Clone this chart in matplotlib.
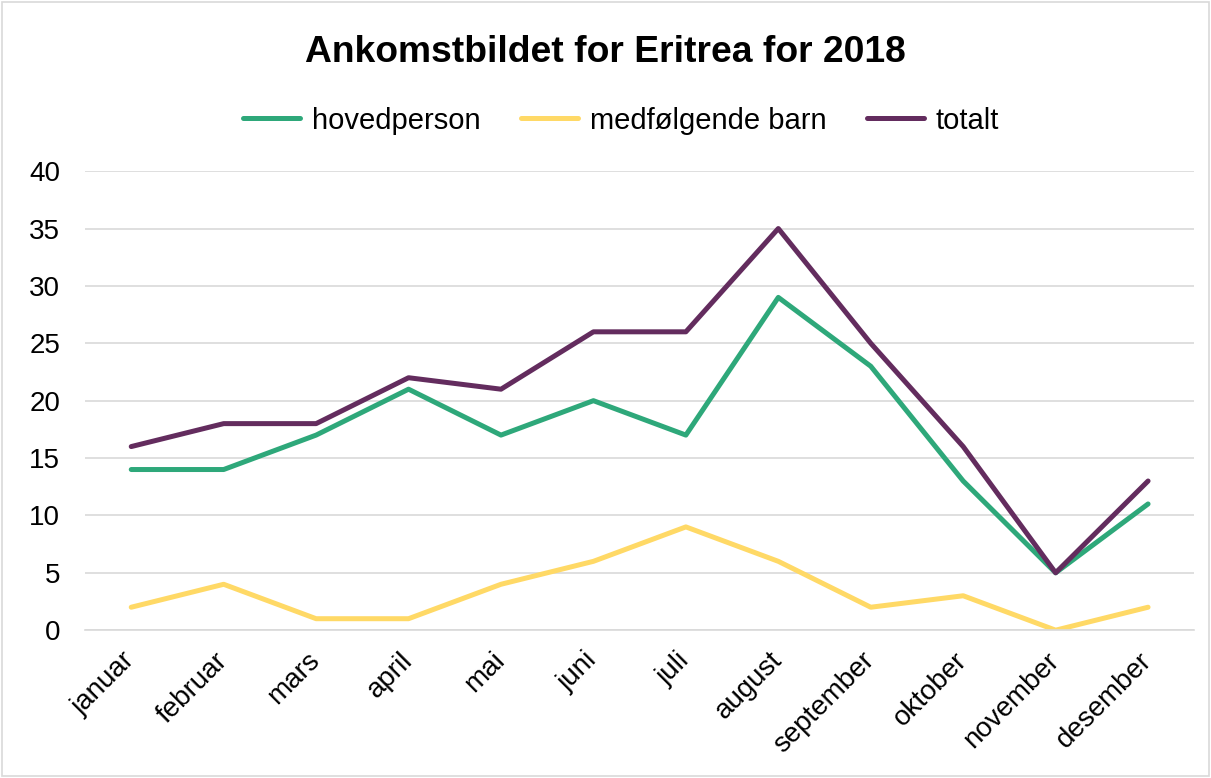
import matplotlib
matplotlib.use("Agg")
import matplotlib.pyplot as plt

plt.rcParams['font.family'] = ['Liberation Sans', 'DejaVu Sans']

months = ['januar', 'februar', 'mars', 'april', 'mai', 'juni', 'juli',
          'august', 'september', 'oktober', 'november', 'desember']
hovedperson = [14, 14, 17, 21, 17, 20, 17, 29, 23, 13, 5, 11]
barn = [2, 4, 1, 1, 4, 6, 9, 6, 2, 3, 0, 2]
totalt = [16, 18, 18, 22, 21, 26, 26, 35, 25, 16, 5, 13]

fig = plt.figure(figsize=(12.11, 7.78), dpi=100)
ax = fig.add_axes([0.0702, 0.190, 0.916, 0.590])

x = range(len(months))
ax.plot(x, hovedperson, color='#2EA87A', lw=3.6, label='hovedperson', solid_capstyle='round')
ax.plot(x, barn, color='#FFD966', lw=3.6, label='medfølgende barn', solid_capstyle='round')
ax.plot(x, totalt, color='#632C5E', lw=3.6, label='totalt', solid_capstyle='round')

ax.set_xlim(-0.5, len(months) - 0.5)
ax.set_ylim(0, 40)
ax.set_yticks(range(0, 41, 5))
ax.set_xticks(list(x))
ax.set_xticklabels(months, rotation=45, ha='right', va='center', rotation_mode='anchor')
ax.tick_params(axis='both', length=0, labelsize=20, colors='black')
ax.tick_params(axis='y', pad=18)
ax.tick_params(axis='x', pad=19)
ax.grid(axis='y', color='#D9D9D9', lw=1.2)
ax.set_axisbelow(True)
for s in ['top', 'right', 'left']:
    ax.spines[s].set_visible(False)
ax.spines['bottom'].set_color('#D9D9D9')
ax.spines['bottom'].set_linewidth(1.2)

fig.text(0.5, 0.932, 'Ankomstbildet for Eritrea for 2018', ha='center', va='center',
         fontsize=26.8, fontweight='bold')
fig.legend(loc='center', bbox_to_anchor=(0.513, 0.845), ncol=3, frameon=False,
           fontsize=21, handlelength=1.95, handletextpad=0.4, columnspacing=1.4)

fig.patches.append(plt.Rectangle((0.002, 0.002), 0.996, 0.996, transform=fig.transFigure,
                                 fill=False, edgecolor='#D9D9D9', lw=1.2))

fig.savefig('out.png', dpi=100)
